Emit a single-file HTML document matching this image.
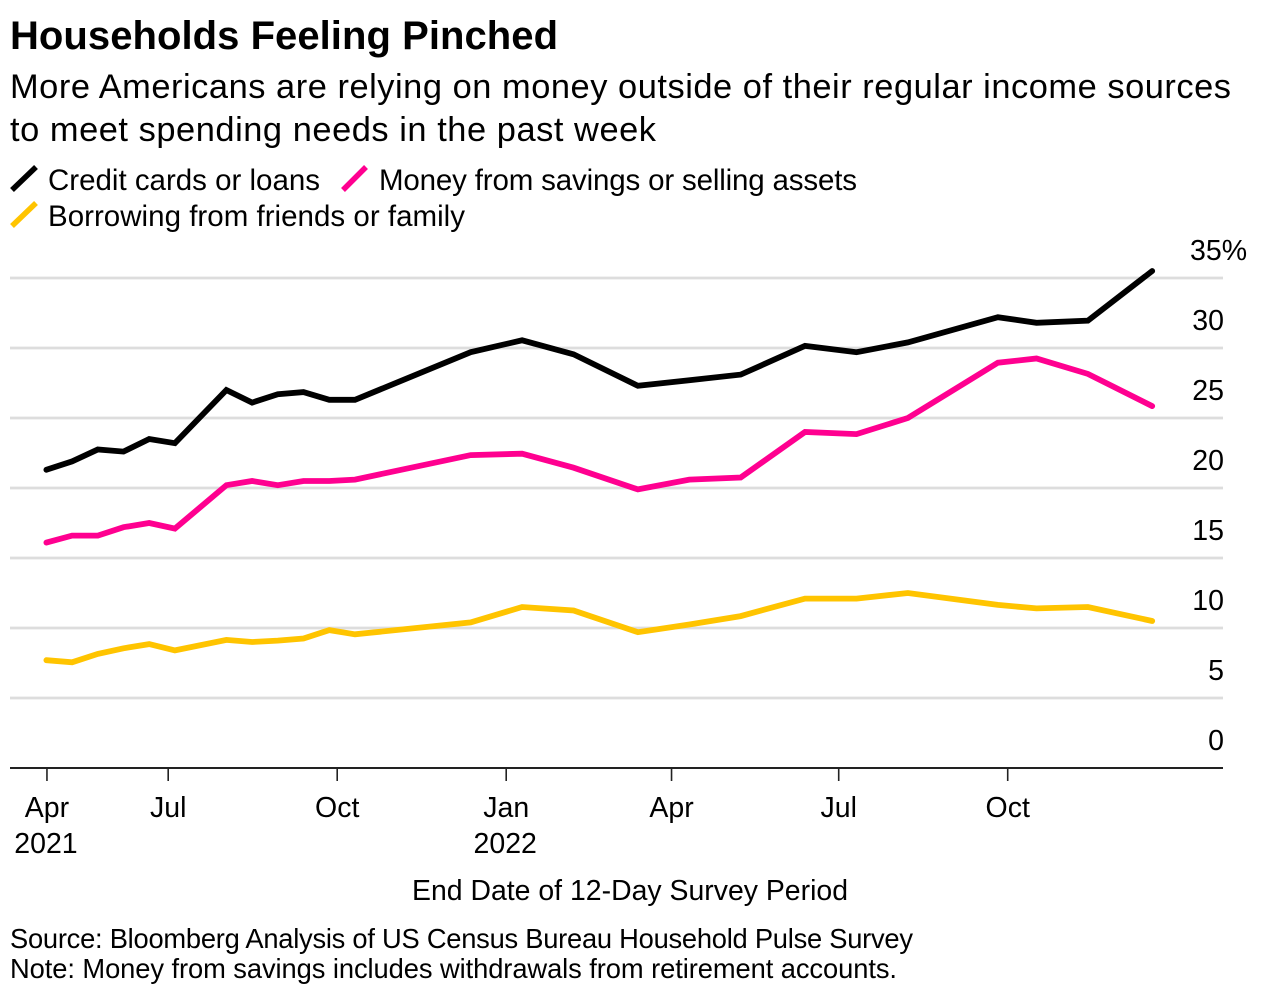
<!DOCTYPE html>
<html lang="en">
<head>
<meta charset="utf-8">
<title>Households Feeling Pinched</title>
<style>
html,body{margin:0;padding:0;background:#fff;width:1266px;height:996px;overflow:hidden}
svg{display:block}
text{font-family:"Liberation Sans",sans-serif;fill:#000}
</style>
</head>
<body>
<svg id="chart" xmlns="http://www.w3.org/2000/svg" width="1266" height="996" viewBox="0 0 1266 996">
  <text x="10" y="49" font-size="40" font-weight="700" textLength="548">Households Feeling Pinched</text>
  <text x="10" y="98" font-size="34.4" textLength="1221">More Americans are relying on money outside of their regular income sources</text>
  <text x="10" y="141" font-size="34.4" textLength="646">to meet spending needs in the past week</text>

  <g>
    <line x1="12" y1="190" x2="36" y2="167" stroke="#000" stroke-width="5.5"/>
    <text x="48" y="190" font-size="29.5" textLength="272">Credit cards or loans</text>
    <line x1="343" y1="190" x2="366" y2="167" stroke="#ff0090" stroke-width="5.5"/>
    <text x="379" y="190" font-size="29.5" textLength="478">Money from savings or selling assets</text>
    <line x1="12" y1="226" x2="36" y2="203" stroke="#ffc400" stroke-width="5.5"/>
    <text x="48" y="226" font-size="29.5" textLength="417">Borrowing from friends or family</text>
  </g>

  <g id="grid"></g>
  <g id="yticks"></g>
  <g id="xaxis"></g>
  <g id="series"></g>

  <text x="412" y="900" font-size="28.4" textLength="436">End Date of 12-Day Survey Period</text>
  <text x="10" y="948" font-size="27.3" textLength="903">Source: Bloomberg Analysis of US Census Bureau Household Pulse Survey</text>
  <text x="10" y="978" font-size="27.3" textLength="887">Note: Money from savings includes withdrawals from retirement accounts.</text>
</svg>
<script>
const surveyDates = ["2021-04-26","2021-05-10","2021-05-24","2021-06-07","2021-06-21","2021-07-05","2021-08-02","2021-08-16","2021-08-30","2021-09-13","2021-09-27","2021-10-11","2021-12-13","2022-01-10","2022-02-07","2022-03-14","2022-04-11","2022-05-09","2022-06-13","2022-07-11","2022-08-08","2022-09-26","2022-10-17","2022-11-14","2022-12-19"];
const creditCards = [21.3,21.9,22.75,22.6,23.5,23.2,27.0,26.1,26.7,26.85,26.3,26.3,29.7,30.55,29.55,27.3,27.7,28.1,30.15,29.7,30.4,32.2,31.8,31.95,35.5];
const savings = [16.1,16.6,16.6,17.2,17.5,17.1,20.2,20.5,20.2,20.5,20.5,20.6,22.35,22.45,21.45,19.9,20.6,20.75,24.0,23.85,25.0,28.95,29.25,28.15,25.85];
const borrowing = [7.7,7.55,8.15,8.55,8.85,8.4,9.15,9.0,9.1,9.25,9.85,9.55,10.4,11.5,11.25,9.7,10.25,10.85,12.1,12.1,12.5,11.65,11.4,11.5,10.5];
const yTicks = [0,5,10,15,20,25,30,35];
const yTickLabels = ["0","5","10","15","20","25","30","35%"];
const xTickDates = ["2021-04-26","2021-07-01","2021-10-01","2022-01-01","2022-04-01","2022-07-01","2022-10-01"];
const xTickLabels = ["Apr","Jul","Oct","Jan","Apr","Jul","Oct"];
const xTickYears = ["2021","","","2022","","",""];

const NS = "http://www.w3.org/2000/svg";
const DAY = 86400000;
const ORIGIN = Date.UTC(2021, 6, 1);
function xScale(dateStr) {
  return 167.6 + (Date.parse(dateStr + "T00:00:00Z") - ORIGIN) / DAY * 1.837;
}
function yScale(v) {
  return 768 - v * 14;
}
function make(tag, attrs, parent) {
  const el = document.createElementNS(NS, tag);
  for (const k in attrs) el.setAttribute(k, attrs[k]);
  parent.appendChild(el);
  return el;
}

const gridG = document.getElementById("grid");
const yG = document.getElementById("yticks");
yTicks.forEach(function (t, i) {
  if (t !== 0) {
    const gl = make("line", {x1: 10, x2: 1223, y1: yScale(t), y2: yScale(t), stroke: "#dddddd", "stroke-width": 2.8}, gridG);
    
    
  }
  const lab = make("text", {x: t === 35 ? 1190 : 1224, y: yScale(t) - 18, "font-size": 28.5, "text-anchor": t === 35 ? "start" : "end"}, yG);
  lab.textContent = yTickLabels[i];
  
  
});

const xG = document.getElementById("xaxis");
const axisLine = make("line", {x1: 10, x2: 1223, y1: 768, y2: 768, stroke: "#222", "stroke-width": 2}, xG);


xTickDates.forEach(function (d, i) {
  const x = xScale(d) + 0.6;
  const tick = make("line", {x1: x, x2: x, y1: 768, y2: 781, stroke: "#222", "stroke-width": 1.6}, xG);
  
  
  const lab = make("text", {x: x, y: 817, "font-size": 28.5, "text-anchor": "middle"}, xG);
  lab.textContent = xTickLabels[i];
  
  
  if (xTickYears[i]) {
    const yr = make("text", {x: x - 1, y: 853, "font-size": 28.5, "text-anchor": "middle"}, xG);
    yr.textContent = xTickYears[i];
    
    
  }
});

function drawSeries(values, color, name) {
  const pts = values.map(function (v, i) {
    return xScale(surveyDates[i]).toFixed(1) + "," + yScale(v).toFixed(1);
  }).join(" ");
  const line = make("polyline", {points: pts, fill: "none", stroke: color, "stroke-width": 5.8, "stroke-linejoin": "miter", "stroke-linecap": "round"}, document.getElementById("series"));
  
  
}
drawSeries(borrowing, "#ffc400", "line-borrowing-friends-family");
drawSeries(savings, "#ff0090", "line-money-from-savings");
drawSeries(creditCards, "#000000", "line-credit-cards-loans");
</script>
</body>
</html>
